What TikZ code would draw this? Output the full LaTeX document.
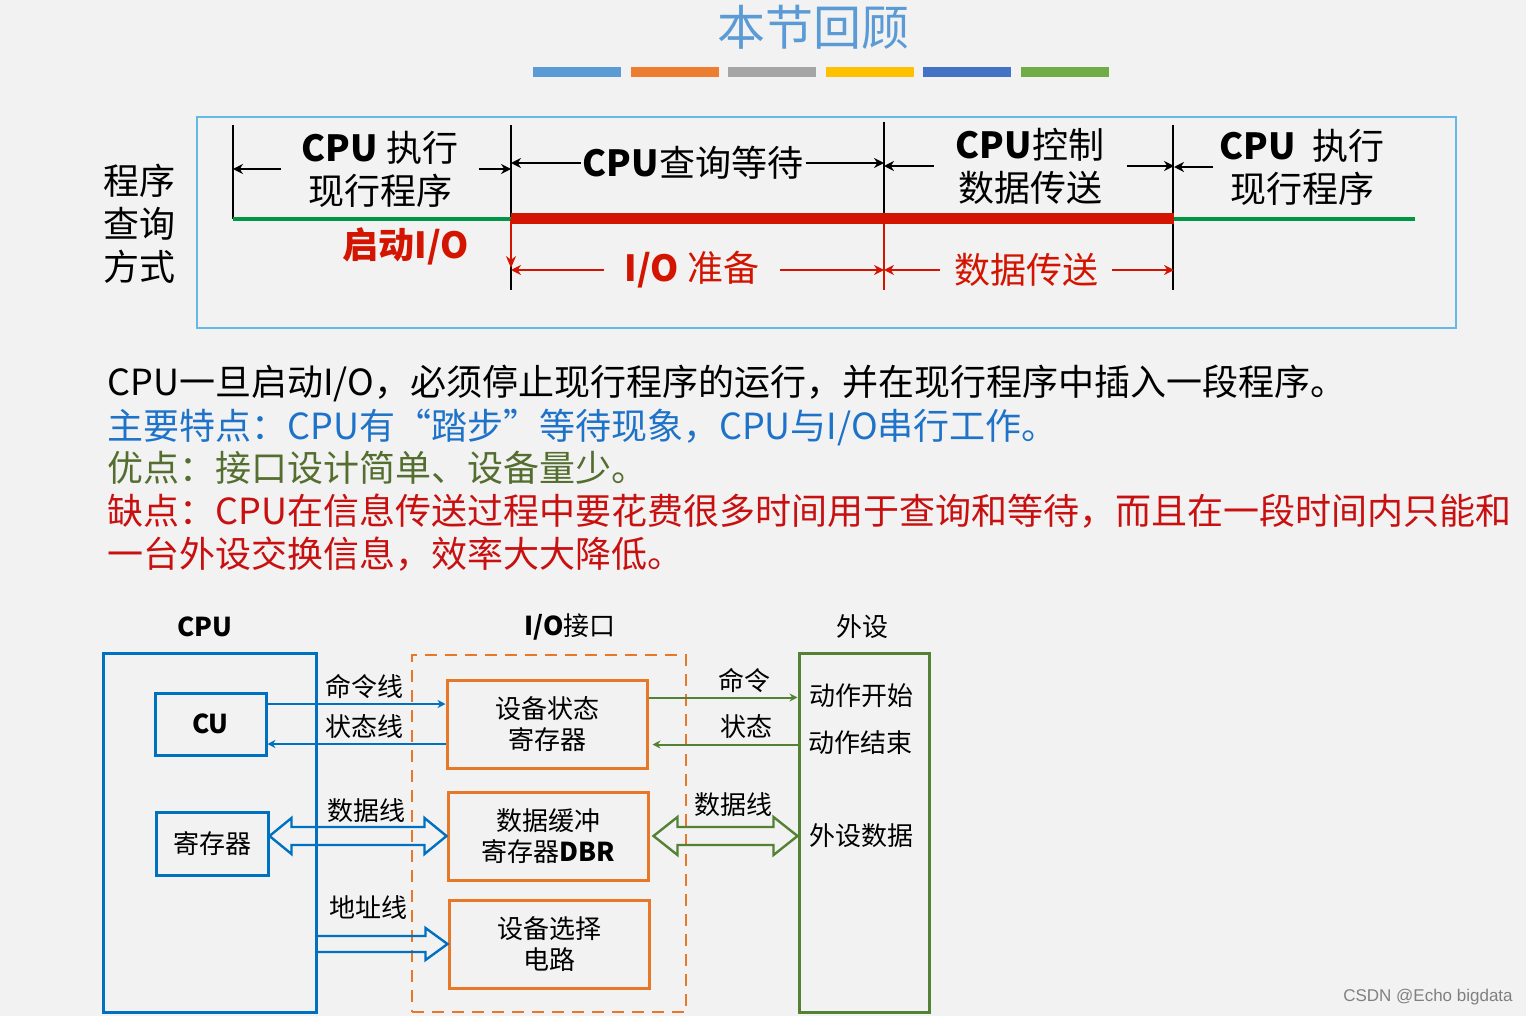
\documentclass[tikz,border=0pt]{standalone}
\usepackage{fontspec}
\setmainfont{Noto Sans CJK SC}
\newfontfamily\wmfont{Liberation Sans}
\usepackage{tikz}
\usetikzlibrary{arrows.meta, positioning, calc}
\usepackage{xcolor}
\definecolor{bgcol}{RGB}{242,242,242}
\definecolor{titleblue}{RGB}{91,155,213}
\definecolor{barA}{RGB}{91,155,213}
\definecolor{barB}{RGB}{237,125,49}
\definecolor{barC}{RGB}{165,165,165}
\definecolor{barD}{RGB}{255,192,0}
\definecolor{barE}{RGB}{68,114,196}
\definecolor{barF}{RGB}{112,173,71}
\definecolor{framecyan}{RGB}{100,185,230}
\definecolor{tgreen}{RGB}{0,150,70}
\definecolor{tred}{RGB}{210,20,0}
\definecolor{cpublue}{RGB}{0,112,192}
\definecolor{ioorange}{RGB}{230,120,40}
\definecolor{devgreen}{RGB}{84,130,53}
\definecolor{txtblue}{RGB}{30,115,200}
\definecolor{txtgreen}{RGB}{84,110,48}
\definecolor{txtred}{RGB}{200,16,16}

\tikzset{
  lbl/.style={inner ysep=0pt, font=\fontsize{18pt}{21.5pt}\selectfont},
  txt/.style={anchor=west, inner sep=0pt, font=\fontsize{18pt}{21pt}\selectfont},
  small/.style={inner sep=1pt, font=\fontsize{13pt}{15.5pt}\selectfont},
  tickline/.style={black, line width=0.9pt},
  tarr/.style={-{Stealth[length=5pt,width=5pt]}, line width=0.9pt},
  rarr/.style={tred, -{Stealth[length=5pt,width=5pt]}, line width=0.9pt},
  cpubox/.style={draw=cpublue, line width=1.5pt, align=center, font=\fontsize{13pt}{15.5pt}\selectfont},
  iobox/.style={draw=ioorange, line width=1.5pt, minimum width=100pt, minimum height=44pt, align=center, font=\fontsize{13pt}{15.5pt}\selectfont},
  devbox/.style={draw=devgreen, line width=1.5pt},
  bline/.style={cpublue, line width=1pt, -{Stealth[length=4pt,width=4pt]}},
  gline/.style={devgreen, line width=1pt, -{Stealth[length=4pt,width=4pt]}},
  hollow/.style={line width=1.2pt, line join=miter}
}

\begin{document}
\begin{tikzpicture}[x=0.5pt, y=-0.5pt]
  \useasboundingbox (0,0) rectangle (1526,1016);
  \fill[bgcol] (0,0) rectangle (1526,1016);

  % title and colour bars
  \node[titleblue, inner sep=0pt, font=\fontsize{24pt}{28pt}\selectfont] (title) at (813,27) {本节回顾};
  \foreach \c [count=\i from 0] in {barA,barB,barC,barD,barE,barF}
    \fill[\c] (533+\i*97.5,67) rectangle ++(88,10);

  % timeline of the polling mode
  \draw[framecyan, line width=1pt] (197,117) rectangle (1456,328);
  \node[lbl, align=center] (mode) at (139,224) {程序\\查询\\方式};
  \coordinate (t0) at (233,219);
  \coordinate (t1) at (511,219);
  \coordinate (t2) at (884,219);
  \coordinate (t3) at (1174,219);
  \coordinate (t4) at (1415,219);
  \draw[tickline] (233,125) -- (t0);
  \draw[tickline] (511,125) -- (511,290);
  \draw[tickline] (884,122) -- (t2);
  \draw[tickline] (1173,125) -- (1173,290);
  \draw[tgreen, line width=2pt] (t0) -- (t1) (t3) -- (t4);
  \draw[tred, line width=5.5pt] (t1) -- (t3);
  \draw[tred, line width=1.2pt] (t2) -- (884,290);
  \draw[tred, line width=1.2pt, -{Stealth[length=6pt,width=5pt]}] (t1) -- (511,268);

  \node[lbl, align=center, inner xsep=10pt] (run1) at (380,169) {\textbf{CPU} 执行\\现行程序};
  \draw[tarr] (run1.west) -- (run1.west -| t0);
  \draw[tarr] (run1.east) -- (run1.east -| t1);
  \node[lbl, inner xsep=1pt] (wait) at (693,163) {\textbf{CPU}查询等待};
  \draw[tarr] (wait.west) -- (wait.west -| t1);
  \draw[tarr] (wait.east) -- (wait.east -| t2);
  \node[lbl, align=center, inner xsep=11pt] (ctrl) at (1030,166) {\textbf{CPU}控制\\数据传送};
  \draw[tarr] (ctrl.west) -- (ctrl.west -| t2);
  \draw[tarr] (ctrl.east) -- (ctrl.east -| t3);
  \node[lbl, align=center, inner xsep=3pt] (run2) at (1302,167) {\textbf{CPU}\ \ 执行\\现行程序};
  \draw[tarr] (run2.west) -- (run2.west -| t3);

  \node[lbl, tred, font=\fontsize{18pt}{21pt}\selectfont\bfseries] (start) at (406,246) {启动I/O};
  \node[lbl, tred, inner xsep=10pt] (prep) at (692,270) {\textbf{I/O} 准备};
  \draw[rarr] (prep.west) -- (prep.west -| t1);
  \draw[rarr] (prep.east) -- (prep.east -| t2);
  \node[lbl, tred, inner xsep=7pt] (xfer) at (1026,270) {数据传送};
  \draw[rarr] (xfer.west) -- (xfer.west -| t2);
  \draw[rarr] (xfer.east) -- (xfer.east -| t3);

  % summary text
  \node[txt] (line1) at (107,383) {CPU一旦启动I/O，必须停止现行程序的运行，并在现行程序中插入一段程序。};
  \node[txt, txtblue] (line2) at (107,427) {主要特点：CPU有“踏步”等待现象，CPU与I/O串行工作。};
  \node[txt, txtgreen] (line3) at (107,468) {优点：接口设计简单、设备量少。};
  \node[txt, txtred] (line4) at (107,511) {缺点：CPU在信息传送过程中要花费很多时间用于查询和等待，而且在一段时间内只能和};
  \node[txt, txtred] (line5) at (107,554) {一台外设交换信息，效率大大降低。};

  % CPU, interface and device
  \node[small, font=\fontsize{13pt}{15pt}\selectfont\bfseries] (hcpu) at (205,627) {CPU};
  \node[small] (hio) at (570,627) {\textbf{I/O}接口};
  \node[small] (hdev) at (862,627) {外设};

  \node[cpubox, minimum width=106.5pt, minimum height=179.5pt] (cpu) at (209.5,832.5) {};
  \node[cpubox, minimum width=55.5pt, minimum height=31pt, font=\fontsize{13pt}{15pt}\selectfont\bfseries] (cu) at (210.5,724) {CU};
  \node[cpubox, minimum width=56pt, minimum height=31.5pt] (reg) at (212,843.5) {寄存器};

  \node[draw=ioorange, line width=1.2pt, dash pattern=on 6pt off 4pt, minimum width=137pt, minimum height=178.5pt] (ioif) at (549,833.5) {};
  \node[iobox] (stat) at (547,724.5) {设备状态\\寄存器};
  \node[iobox] (dbr) at (548,836) {数据缓冲\\寄存器\textbf{DBR}};
  \node[iobox] (sel) at (549,944) {设备选择\\电路};

  \node[devbox, minimum width=65pt, minimum height=179.5pt] (dev) at (864,832.5) {};
  \node[small] (dstart) at (861,696) {动作开始};
  \node[small] (dend) at (860,743) {动作结束};
  \node[small] (ddata) at (861,836) {外设数据};

  % CPU side lines
  \coordinate (cmd) at ([yshift=10pt]cu.east);
  \coordinate (sta) at ([yshift=-10pt]cu.east);
  \draw[bline] (cmd) -- (cmd -| stat.west);
  \draw[bline] (sta -| stat.west) -- (sta);
  \node[small] (lcmd) at (364,687) {命令线};
  \node[small] (lsta) at (364,727) {状态线};
  \node[small] (ldat) at (366,811) {数据线};
  \node[small] (ladr) at (368,908) {地址线};

  \coordinate (dl) at (reg.east |- dbr.west);
  \draw[hollow, cpublue] (dl) -- ++(22,-18) -- ++(0,9) -- ($(dbr.west)+(-22,-9)$) -- ++(0,-9) -- (dbr.west)
    -- ++(-22,18) -- ++(0,-9) -- ($(dl)+(22,9)$) -- ++(0,9) -- cycle;
  \coordinate (al) at (cpu.east |- sel.west);
  \draw[hollow, cpublue] ($(al)+(0,-8)$) -- ($(sel.west)+(-22,-8)$) -- ++(0,-8) -- (sel.west)
    -- ++(-22,16) -- ++(0,-8) -- ($(al)+(0,8)$);

  % device side lines
  \coordinate (gcmd) at ([yshift=13.5pt]stat.east);
  \coordinate (gsta) at ([yshift=-10pt]stat.east);
  \draw[gline] (gcmd) -- (gcmd -| dev.west);
  \draw[gline] (gsta -| dev.west) -- ([xshift=2pt]gsta);
  \node[small] (gcmdl) at (744,681) {命令};
  \node[small] (gstal) at (746,727) {状态};
  \node[small] (gdatl) at (733,805) {数据线};
  \coordinate (dr) at (dev.west |- dbr.east);
  \draw[hollow, devgreen] ([xshift=2pt]dbr.east) -- ++(24,-19) -- ++(0,10) -- ($(dr)+(-24,-9)$) -- ++(0,-10) -- (dr)
    -- ++(-24,19) -- ++(0,-10) -- ($(dbr.east)+(28,9)$) -- ++(0,10) -- cycle;

  \node[gray, inner sep=0pt, font=\wmfont\fontsize{8.5pt}{10pt}\selectfont] (mark) at (1428,997) {CSDN @Echo bigdata};
\end{tikzpicture}
\end{document}
